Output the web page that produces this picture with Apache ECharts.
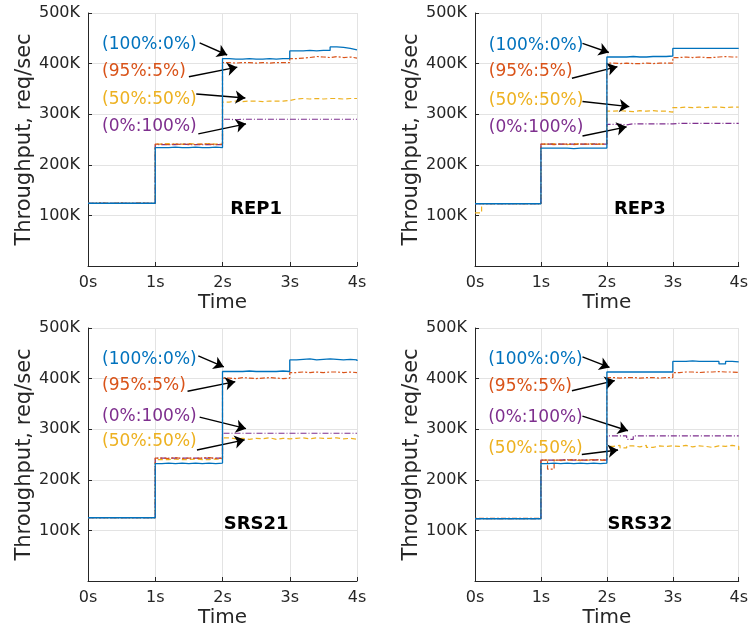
<!DOCTYPE html>
<html>
<head>
<meta charset="utf-8">
<title>Throughput</title>
<script src="https://cdn.jsdelivr.net/npm/echarts@6/dist/echarts.min.js"></script>
<style>
  html, body { margin: 0; padding: 0; background: #fff; }
  #main { width: 751px; height: 630px; }
</style>
</head>
<body>
<div id="main"></div>
<script type="text/javascript">
// 采样时刻 (秒)
const times = [0,0.1,0.2,0.3,0.4,0.5,0.6,0.7,0.8,0.9,
               1,1.1,1.2,1.3,1.4,1.5,1.6,1.7,1.8,1.9,
               2,2.1,2.2,2.3,2.4,2.5,2.6,2.7,2.8,2.9,
               3,3.1,3.2,3.3,3.4,3.5,3.6,3.7,3.8,3.9,4]
const xTicks = [0, 1, 2, 3, 4]
const yTicks = [0, 100, 200, 300, 400, 500]   // 单位 K
const seriesNames = ['(100%:0%)', '(95%:5%)', '(50%:50%)', '(0%:100%)']
const panelNames = ['REP1', 'REP3', 'SRS21', 'SRS32']

// 吞吐量 (K req/sec)
const rep1_100 = [124,124,124,124,124,124,124,124,124,124,
                  234,234,235,234,234,235,234,234,235,234,
                  410,409,409,410,409,409,410,409,410,410,
                  425,425,426,425,426,426,433,432,430,427,427]
const rep1_95  = [124,125,124,124,125,124,124,125,124,124,
                  241,240,241,240,241,240,241,241,240,241,
                  402,401,402,402,401,402,401,402,402,402,
                  410,411,412,414,413,412,414,412,413,411,410]
const rep1_50  = [124,124,124,124,124,124,124,124,124,124,
                  241,242,241,241,242,241,241,242,241,241,
                  324,326,325,326,326,325,326,326,326,327,
                  330,331,330,331,330,331,331,330,331,331,331]
const rep1_0   = [124,124,124,124,124,124,124,124,124,124,
                  240,240,240,241,240,240,240,240,240,240,
                  290,289,290,290,290,290,290,290,290,290,
                  290,290,290,290,290,290,290,290,290,290,290]

const rep3_100 = [123,123,123,123,123,123,123,123,123,123,
                  233,233,233,233,232,233,233,233,233,233,
                  413,413,413,414,413,413,414,414,414,415,
                  430,430,430,430,430,430,430,430,430,430,430]
const rep3_95  = [123,123,123,123,123,123,123,123,123,123,
                  241,240,241,241,240,241,241,240,241,241,
                  401,400,401,400,400,401,400,401,401,401,
                  412,413,412,413,412,412,413,414,413,413,412]
const rep3_50  = [105,123,123,123,123,123,123,123,123,123,
                  241,242,241,240,242,241,241,242,241,241,
                  306,307,306,305,307,306,307,306,306,304,
                  313,314,313,314,313,314,314,313,314,314,314]
const rep3_0   = [123,123,123,123,123,123,123,123,123,123,
                  241,241,241,241,241,241,241,241,241,241,
                  280,280,279,281,281,281,281,281,281,281,
                  282,282,282,282,282,282,282,282,282,282,282]

const srs21_100 = [125,125,125,125,125,125,125,125,125,125,
                   232,233,232,233,232,233,232,233,232,233,
                   414,414,414,415,414,414,414,414,415,414,
                   437,438,439,437,438,439,438,437,438,437,435]
const srs21_95  = [125,125,125,125,125,125,125,125,125,125,
                   243,242,244,242,243,242,243,244,242,243,
                   401,400,402,401,400,401,402,401,400,401,
                   412,413,412,413,412,413,413,412,413,412,413]
const srs21_50  = [125,125,125,125,125,125,125,125,125,125,
                   240,240,241,240,240,241,240,240,241,240,
                   283,281,282,280,282,281,283,280,282,281,
                   282,283,281,283,282,282,283,281,282,280,283]
const srs21_0   = [125,125,125,125,125,125,125,125,125,125,
                   243,243,243,243,243,243,243,243,243,243,
                   292,292,292,292,292,292,292,292,292,292,
                   292,292,292,292,292,292,292,292,292,292,292]

const srs32_100 = [123,123,123,123,123,123,123,123,123,123,
                   232,233,232,233,232,233,232,233,232,233,
                   413,413,413,413,413,413,413,413,413,413,
                   434,434,435,434,434,434,434,429,434,433,434]
const srs32_95  = [124,124,124,124,124,124,124,124,124,124,
                   239,221,239,239,240,239,239,240,239,239,
                   402,401,402,402,401,402,402,401,402,402,
                   412,413,413,412,413,413,414,413,413,412,411]
const srs32_50  = [123,123,123,123,123,123,123,123,123,123,
                   239,239,238,239,239,238,239,239,239,238,
                   266,268,263,267,265,268,264,267,266,267,
                   266,268,265,267,266,264,267,266,268,266,259]
const srs32_0   = [123,123,123,123,123,123,123,123,123,123,
                   239,239,239,240,239,239,239,239,240,239,
                   287,287,287,280,287,287,287,287,287,287,
                   287,287,287,287,287,287,287,287,287,287,287]

const panelData = [
  [rep1_100, rep1_95, rep1_50, rep1_0],
  [rep3_100, rep3_95, rep3_50, rep3_0],
  [srs21_100, srs21_95, srs21_50, srs21_0],
  [srs32_100, srs32_95, srs32_50, srs32_0]
]

// 标注文字位置 [x(s), y(K)]，左端中点
const labelPos = [
  [[0.21, 437], [0.21, 385], [0.21, 328], [0.21, 275]],
  [[0.21, 435], [0.21, 384], [0.21, 326], [0.21, 274]],
  [[0.21, 438], [0.21, 386], [0.21, 275], [0.21, 324]],
  [[0.20, 437], [0.20, 384], [0.20, 262], [0.20, 322]]
]
// 箭头 [起点x, 起点y, 终点x, 终点y]
const arrows = [
  [[1.66, 441, 2.07, 417], [1.50, 374, 2.22, 393], [1.61, 340, 2.34, 332], [1.64, 261, 2.35, 281]],
  [[1.63, 440, 2.03, 422], [1.47, 371, 2.16, 394], [1.63, 325, 2.34, 315], [1.63, 257, 2.30, 275]],
  [[1.64, 445, 2.02, 423], [1.48, 375, 2.19, 394], [1.62, 259, 2.33, 279], [1.66, 324, 2.35, 301]],
  [[1.63, 443, 2.04, 422], [1.47, 376, 2.12, 396], [1.62, 250, 2.17, 259], [1.63, 326, 2.32, 297]]
]
const panelLabelPos = [2.5, 112]

const colors = ['#0072BD', '#D95319', '#EDB120', '#7E2F8E']
const dashes = ['solid', [2, 2, 5, 2], [5, 3], [6, 2, 1, 2]]
const grids = [
  {left: 88, top: 13, width: 269, height: 253},
  {left: 475, top: 13, width: 268, height: 253},
  {left: 88, top: 328, width: 269, height: 253},
  {left: 475, top: 328, width: 268, height: 253}
]

const textColor = '#262626'
const font = 'DejaVu Sans'
var xAxes = [], yAxes = [], series = []
for (var p = 0; p < 4; p++) {
  xAxes.push({
    type: 'value', gridIndex: p, min: xTicks[0], max: xTicks[xTicks.length - 1], interval: 1,
    name: 'Time', nameLocation: 'middle', nameGap: 27,
    nameTextStyle: {fontSize: 20, color: textColor, fontFamily: font},
    axisLine: {show: true, onZero: false, lineStyle: {color: '#262626', width: 1}},
    axisTick: {show: true, inside: true, length: 4, lineStyle: {color: '#262626'}},
    axisLabel: {fontSize: 16, color: textColor, fontFamily: font, margin: 9,
      formatter: function (v) { return v + 's' }},
    splitLine: {show: true, lineStyle: {color: '#e3e3e3', width: 1}}
  })
  yAxes.push({
    type: 'value', gridIndex: p, min: yTicks[0], max: yTicks[yTicks.length - 1], interval: 100,
    name: 'Throughput, req/sec', nameLocation: 'middle', nameGap: 49,
    nameTextStyle: {fontSize: 21, color: textColor, fontFamily: font},
    axisLine: {show: true, lineStyle: {color: '#262626', width: 1}},
    axisTick: {show: true, inside: true, length: 4, lineStyle: {color: '#262626'}},
    axisLabel: {fontSize: 16, color: textColor, fontFamily: font, margin: 8,
      formatter: function (v) { return v === 0 ? '' : v + 'K' }},
    splitLine: {show: true, lineStyle: {color: '#e3e3e3', width: 1}}
  })
  // 画线的顺序：黄、紫、橙、蓝
  var order = [2, 3, 1, 0]
  for (var k = 0; k < 4; k++) {
    var s = order[k]
    var vals = panelData[p][s]
    var d = []
    for (var i = 0; i < times.length; i++) d.push([times[i], vals[i]])
    var lp = labelPos[p][s]
    var ar = arrows[p][s]
    var mp = [{
      coord: lp, symbol: 'circle', symbolSize: 0,
      label: {show: true, position: 'right', distance: 0, formatter: seriesNames[s],
        color: colors[s], fontSize: 17, fontFamily: font}
    }]
    if (s === 0) {
      mp.push({
        coord: panelLabelPos, symbol: 'circle', symbolSize: 0,
        label: {show: true, position: 'inside', formatter: panelNames[p],
          color: '#000', fontSize: 18, fontWeight: 'bold', fontFamily: font}
      })
    }
    series.push({
      name: seriesNames[s], type: 'line', xAxisIndex: p, yAxisIndex: p,
      data: d, step: 'end', showSymbol: false, z: 2 + k,
      lineStyle: {color: colors[s], width: s === 0 ? 1.3 : 1.2, type: dashes[s]},
      markPoint: {silent: true, data: mp},
      markLine: {
        silent: true, symbol: ['none', 'arrow'], symbolSize: 10,
        label: {show: false},
        itemStyle: {color: '#000'},
        lineStyle: {color: '#000', width: 1.4, type: 'solid'},
        data: [[{coord: [ar[0], ar[1]]}, {coord: [ar[2], ar[3]]}]]
      }
    })
  }
}

var myChart = echarts.init(document.getElementById('main'))
myChart.setOption({
  animation: false,
  textStyle: {fontFamily: font},
  grid: grids,
  xAxis: xAxes,
  yAxis: yAxes,
  series: series
})
</script>
</body>
</html>
